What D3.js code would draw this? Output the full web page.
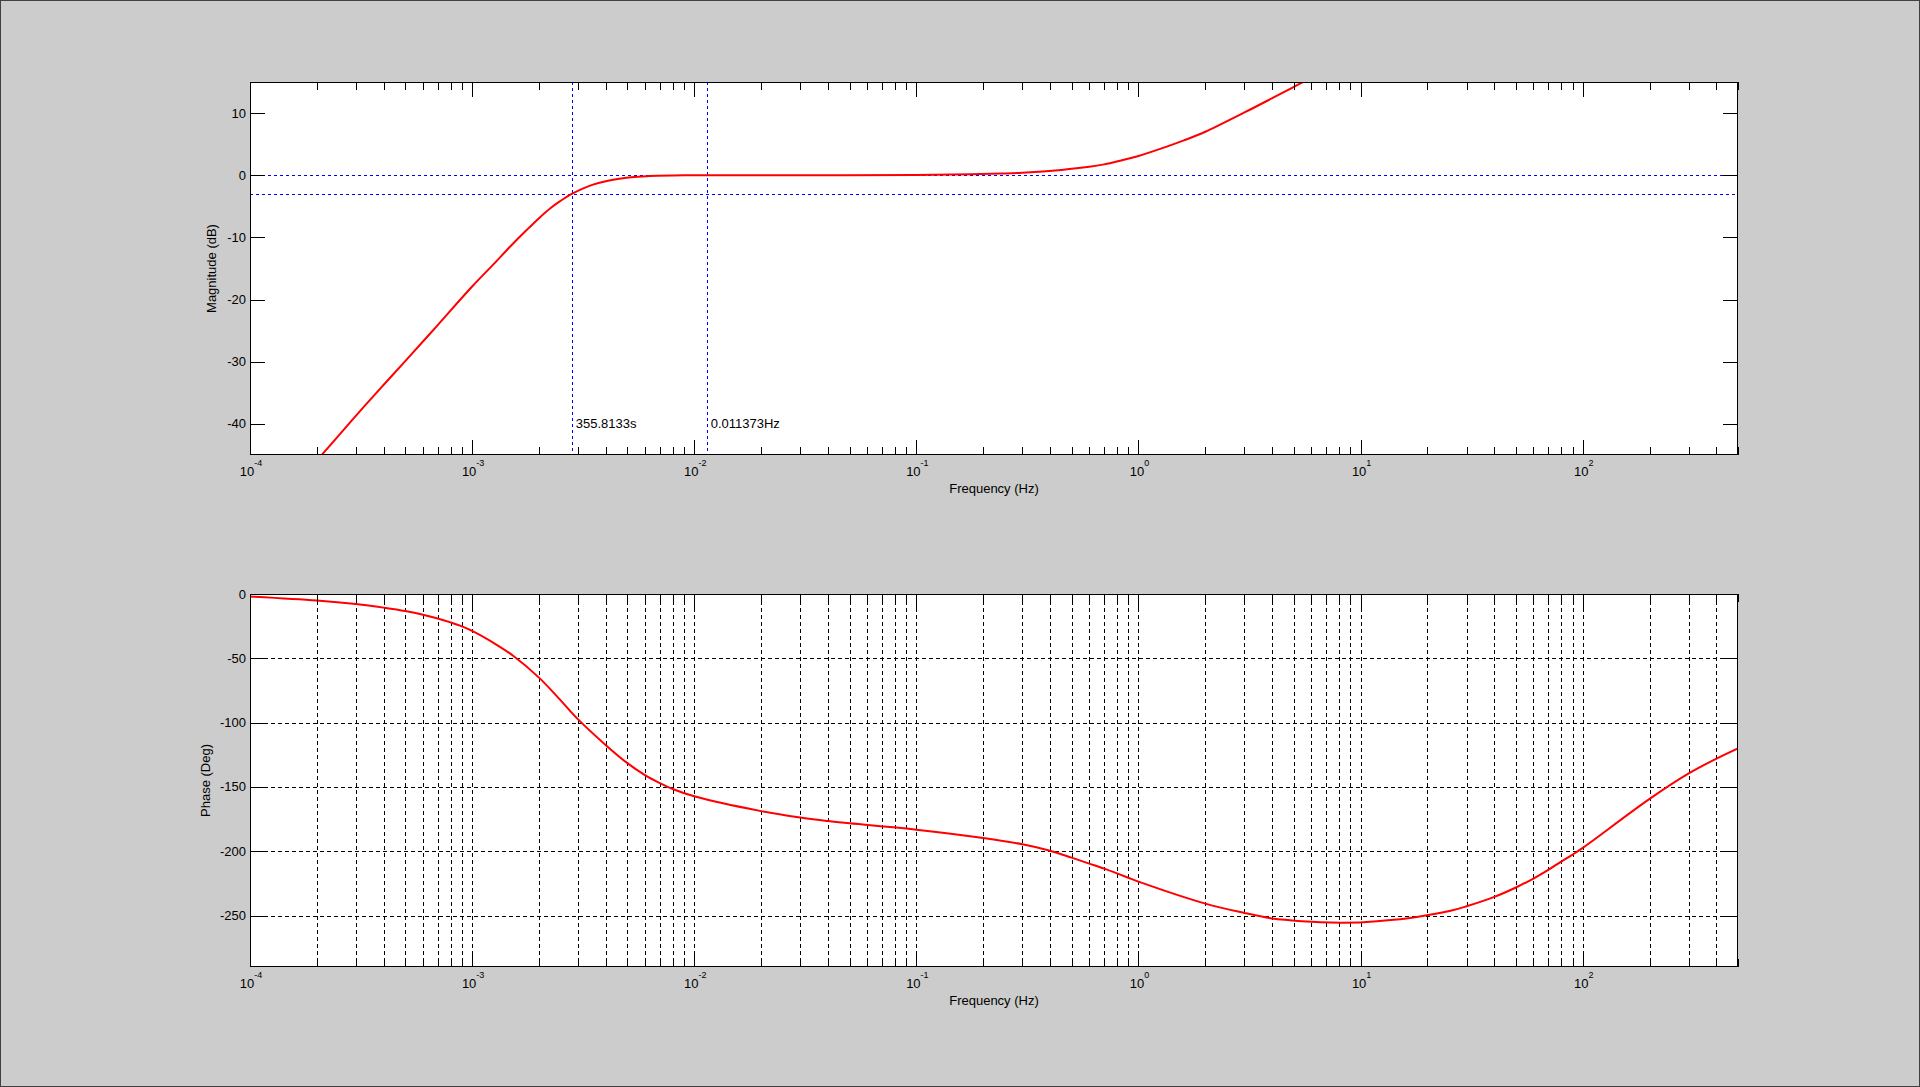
<!DOCTYPE html>
<html><head>
<meta charset="utf-8">
<title>Bode plot</title>
<script src="https://d3js.org/d3.v7.min.js"></script>
<style>
  body { margin: 0; background: #cccccc; }
  svg { display: block; }
  text { font-family: "Liberation Sans", Arial, sans-serif; fill: #000; }
</style>
</head>
<body>
<svg id="chart" width="1920" height="1087"></svg>

<script>
  // ---- values ----
  // magnitude curve: frequency (Hz) and gain (dB)
  let magFreq = [2.0e-4, 2.1e-4, 3.1e-4, 4.0e-4, 5.0e-4, 7.0e-4, 1.0e-3, 1.25e-3, 1.5e-3, 1.75e-3,
                 2.0e-3, 2.25e-3, 2.48e-3, 2.81e-3, 3.5e-3, 4.6e-3, 6.1e-3, 0.01, 0.03, 0.1,
                 0.175, 0.24, 0.3, 0.45, 0.6, 0.7, 0.85, 1.0, 1.34, 1.6,
                 2.0, 3.0, 4.0, 5.44, 6.0];
  let magDb = [-45.8, -45.0, -38.1, -33.7, -29.9, -24.1, -17.9, -14.3, -11.3, -8.9,
               -6.9, -5.3, -4.2, -3.0, -1.5, -0.55, -0.15, 0.0, 0.0, 0.05,
               0.15, 0.27, 0.4, 0.85, 1.35, 1.75, 2.45, 3.1, 4.6, 5.6,
               7.0, 10.1, 12.4, 14.9, 15.8];

  // phase curve: frequency (Hz) and phase (deg)
  let phFreq = [1e-4, 2e-4, 3e-4, 4e-4, 5e-4, 6e-4, 7e-4, 8e-4, 9e-4, 1e-3,
                1.29e-3, 1.53e-3, 2e-3, 2.48e-3, 3e-3, 4e-3, 5e-3, 6e-3, 7e-3, 8e-3,
                0.01, 0.02, 0.03, 0.04, 0.05, 0.1, 0.2, 0.3, 0.4, 0.5,
                0.6, 0.7, 0.8, 0.9, 1.0, 2, 3, 4, 4.8,
                5.44, 6.6, 8.2, 10.3, 14.1, 17.9, 25.4, 30, 40,
                50, 60, 70, 80, 90, 100, 200, 300, 400, 500];
  let phDeg = [-1.9, -5.0, -7.8, -10.6, -13.2, -16.1, -19.0, -22.1, -25.2, -28.7,
               -39.5, -48.0, -65.0, -81.9, -97.5, -117.5, -131.5, -140.8, -147.0, -151.6,
               -157.3, -168.8, -173.8, -176.5, -178.3, -183.2, -189.7, -194.6, -199.6, -205.0,
               -209.6, -213.5, -217.2, -220.6, -223.6, -240.7, -248.0, -252.3, -253.6,
               -254.4, -255.2, -255.5, -255.2, -253.3, -251.1, -246.3, -242.8, -235.5,
               -228.2, -221.2, -214.5, -208.0, -202.6, -197.4, -159.3, -139.5, -128.0, -120.0];

  // axis ranges and ticks
  let freqDomain = [1e-4, 500];
  let magDomain = [-45, 15];
  let phDomain = [-290, 0];
  let magTicks = [10, 0, -10, -20, -30, -40];
  let phTicks = [0, -50, -100, -150, -200, -250];

  // blue markers in the magnitude plot
  let refLevels = [0, -3];          // dB
  let cornerPeriod = 355.8133;      // s
  let cornerFreq = 0.011373;        // Hz
  let markerLabelLevel = -40;       // dB

  // ---- drawing ----
  let svg = d3.select("#chart");
  let W = 1920, H = 1087;
  let left = 250, right = 1738;
  let majorLen = 15, minorLen = 8;

  svg.append("rect")
      .attr("x", 0.5).attr("y", 0.5)
      .attr("width", W - 1).attr("height", H - 1)
      .style("fill", "#cccccc")
      .style("stroke", "#404040");

  let x = d3.scaleLog().domain(freqDomain).range([left, right]);
  let xTicks = x.ticks().filter(v => v >= freqDomain[0] * 0.999 && v <= freqDomain[1] * 1.001);
  function isMajor(v) {
    let l = Math.log10(v);
    return Math.abs(l - Math.round(l)) < 1e-9;
  }
  function px(v) { return Math.round(v) + 0.5; }

  // draws one axes box; returns a function that adds the ticks, frame and labels on top
  function drawAxes(g, y, yTicks, top, bottom, yLabel, yLabelX, grid) {
    g.append("rect")
        .attr("x", left).attr("y", top)
        .attr("width", right - left).attr("height", bottom - top)
        .style("fill", "white");

    if (grid) {
      xTicks.filter(v => v > freqDomain[0] * 1.001 && v < freqDomain[1] * 0.999).forEach(function(v) {
        g.append("line")
            .attr("x1", px(x(v))).attr("x2", px(x(v)))
            .attr("y1", top).attr("y2", bottom)
            .style("stroke", "black")
            .style("stroke-dasharray", "4,3")
            .style("shape-rendering", "crispEdges");
      });
      yTicks.filter(v => y(v) > top + 1 && y(v) < bottom - 1).forEach(function(v) {
        g.append("line")
            .attr("x1", left).attr("x2", right)
            .attr("y1", px(y(v))).attr("y2", px(y(v)))
            .style("stroke", "black")
            .style("stroke-dasharray", "4,3")
            .style("shape-rendering", "crispEdges");
      });
    }

    return function finish() {
      // x ticks, bottom and top, pointing inwards
      xTicks.forEach(function(v) {
        let len = isMajor(v) ? majorLen : minorLen;
        let xx = px(x(v));
        g.append("line").attr("x1", xx).attr("x2", xx).attr("y1", bottom).attr("y2", bottom - len)
            .style("stroke", "black").style("shape-rendering", "crispEdges");
        g.append("line").attr("x1", xx).attr("x2", xx).attr("y1", top).attr("y2", top + len)
            .style("stroke", "black").style("shape-rendering", "crispEdges");
      });
      // y ticks, left and right
      yTicks.forEach(function(v) {
        let yy = px(y(v));
        g.append("line").attr("x1", left).attr("x2", left + majorLen).attr("y1", yy).attr("y2", yy)
            .style("stroke", "black").style("shape-rendering", "crispEdges");
        g.append("line").attr("x1", right).attr("x2", right - majorLen).attr("y1", yy).attr("y2", yy)
            .style("stroke", "black").style("shape-rendering", "crispEdges");
        g.append("text")
            .attr("x", left - 4).attr("y", y(v) + 4.5)
            .attr("text-anchor", "end")
            .style("font-size", "13px")
            .text(v);
      });

      g.append("rect")
          .attr("x", left + 0.5).attr("y", top + 0.5)
          .attr("width", right - left - 1).attr("height", bottom - top - 1)
          .style("fill", "none")
          .style("stroke", "black")
          .style("shape-rendering", "crispEdges");

      // decade labels 10^n
      xTicks.filter(isMajor).forEach(function(v) {
        let t = g.append("text")
            .attr("x", x(v) + 1).attr("y", bottom + 21)
            .attr("text-anchor", "middle")
            .style("font-size", "13px");
        t.append("tspan").text("10");
        t.append("tspan")
            .attr("dy", -10)
            .style("font-size", "9px")
            .text(Math.round(Math.log10(v)));
      });

      g.append("text")
          .attr("x", (left + right) / 2).attr("y", bottom + 38)
          .attr("text-anchor", "middle")
          .style("font-size", "13px")
          .text("Frequency (Hz)");

      g.append("text")
          .attr("transform", "translate(" + yLabelX + "," + ((top + bottom) / 2) + ") rotate(-90)")
          .attr("text-anchor", "middle")
          .style("font-size", "13px")
          .text(yLabel);
    };
  }

  // ---- magnitude plot ----
  let magTop = 82, magBottom = 455;
  let yMag = d3.scaleLinear().domain(magDomain).range([magBottom, magTop]);
  let gMag = svg.append("g");
  let finishMag = drawAxes(gMag, yMag, magTicks, magTop, magBottom, "Magnitude (dB)", 216, false);

  svg.append("clipPath").attr("id", "clipMag")
    .append("rect").attr("x", left).attr("y", magTop).attr("width", right - left).attr("height", magBottom - magTop);
  svg.append("clipPath").attr("id", "clipPh")
    .append("rect").attr("x", left).attr("y", 594).attr("width", right - left).attr("height", 967 - 594);

  refLevels.forEach(function(d) {
    gMag.append("line")
        .attr("x1", left).attr("x2", right)
        .attr("y1", px(yMag(d))).attr("y2", px(yMag(d)))
        .style("stroke", "blue")
        .style("stroke-dasharray", "3,3")
        .style("shape-rendering", "crispEdges");
  });
  [1 / cornerPeriod, cornerFreq].forEach(function(f) {
    gMag.append("line")
        .attr("x1", px(x(f))).attr("x2", px(x(f)))
        .attr("y1", magTop).attr("y2", magBottom)
        .style("stroke", "blue")
        .style("stroke-dasharray", "3,3")
        .style("shape-rendering", "crispEdges");
  });

  let magLine = d3.line()
      .x((d, i) => x(magFreq[i]))
      .y(d => yMag(d))
      .curve(d3.curveCatmullRom.alpha(0.5));
  gMag.append("path")
      .attr("d", magLine(magDb))
      .attr("clip-path", "url(#clipMag)")
      .style("fill", "none")
      .style("stroke", "red")
      .style("stroke-width", 2);

  gMag.append("text")
      .attr("x", x(1 / cornerPeriod) + 4).attr("y", yMag(markerLabelLevel) + 4.5)
      .style("font-size", "13px")
      .text(cornerPeriod + "s");
  gMag.append("text")
      .attr("x", x(cornerFreq) + 4).attr("y", yMag(markerLabelLevel) + 4.5)
      .style("font-size", "13px")
      .text(cornerFreq + "Hz");

  finishMag();

  // ---- phase plot ----
  let phTop = 594, phBottom = 967;
  let yPh = d3.scaleLinear().domain(phDomain).range([phBottom, phTop]);
  let gPh = svg.append("g");
  let finishPh = drawAxes(gPh, yPh, phTicks, phTop, phBottom, "Phase (Deg)", 210, true);

  let phLine = d3.line()
      .x((d, i) => x(phFreq[i]))
      .y(d => yPh(d))
      .curve(d3.curveCatmullRom.alpha(0.5));
  gPh.append("path")
      .attr("d", phLine(phDeg))
      .attr("clip-path", "url(#clipPh)")
      .style("fill", "none")
      .style("stroke", "red")
      .style("stroke-width", 2);

  finishPh();
</script>
</body>
</html>
